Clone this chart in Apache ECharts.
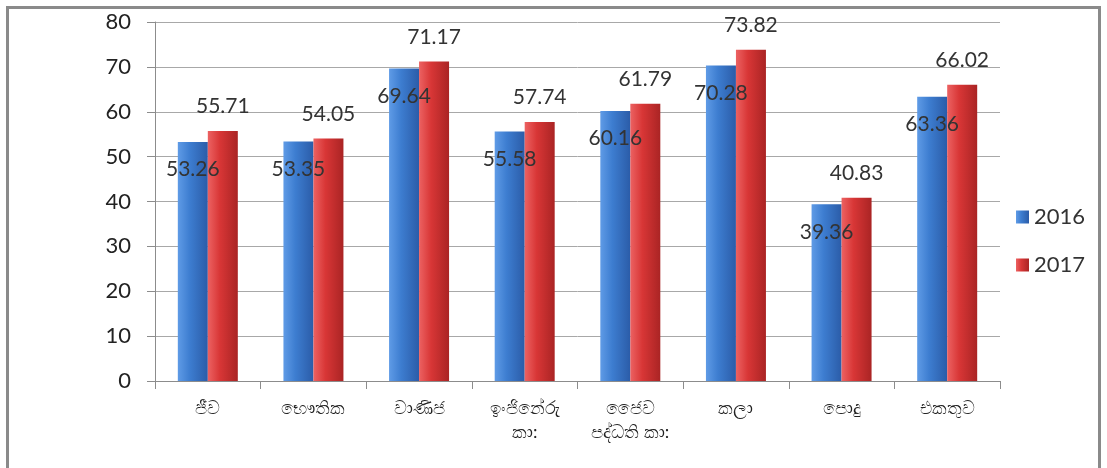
<!DOCTYPE html>
<html><head><meta charset="utf-8">
<script src="https://cdn.jsdelivr.net/npm/echarts@6/dist/echarts.min.js"></script>
<style>
html,body{margin:0;padding:0;background:#fff;}
#frame{position:absolute;left:6px;top:6px;width:1095px;height:470px;border:3px solid #8a8a8a;border-bottom:none;box-sizing:border-box;}
#c{position:absolute;left:0;top:0;width:1107px;height:468px;}
</style></head>
<body>
<div id="frame"></div>
<div id="c"></div>
<script>
const categories = ['ජීව', 'භෞතික', 'වාණිජ', 'ඉංජිනේරු\nකා:', 'ජෛව\nපද්ධති කා:', 'කලා', 'පොදු', 'එකතුව'];
const series2016 = [53.26, 53.35, 69.64, 55.58, 60.16, 70.28, 39.36, 63.36];
const series2017 = [55.71, 54.05, 71.17, 57.74, 61.79, 73.82, 40.83, 66.02];
const seriesNames = ['2016', '2017'];

const chart = echarts.init(document.getElementById('c'));
const font = 'Lato, "Noto Sans", sans-serif';
const blueGrad = new echarts.graphic.LinearGradient(0,0,1,0,[
  {offset:0,color:'#5f9be6'},{offset:0.4,color:'#3d7dd0'},{offset:1,color:'#2b5ca8'}]);
const redGrad = new echarts.graphic.LinearGradient(0,0,1,0,[
  {offset:0,color:'#ec6262'},{offset:0.4,color:'#d83636'},{offset:1,color:'#aa2424'}]);
chart.setOption({
  animation:false,
  textStyle:{fontFamily:font},
  grid:{left:155,right:107,top:22,bottom:87},
  legend:{
    orient:'vertical', left:1011, top:201, itemGap:26,
    itemWidth:13, itemHeight:13, icon:'rect',
    textStyle:{fontSize:22,color:'#333',fontFamily:font},
    data:seriesNames
  },
  xAxis:{
    type:'category', data:categories,
    axisLine:{lineStyle:{color:'#8c8c8c'}},
    axisTick:{show:true,length:8,lineStyle:{color:'#8c8c8c'}},
    axisLabel:{fontSize:18,color:'#222',margin:15,lineHeight:24,interval:0}
  },
  yAxis:{
    type:'value', min:0, max:80, interval:10,
    axisLine:{show:true,lineStyle:{color:'#8c8c8c'}},
    axisTick:{show:true,length:8,lineStyle:{color:'#8c8c8c'}},
    splitLine:{lineStyle:{color:'#a8a8a8'}},
    axisLabel:{fontSize:22,color:'#222',margin:24}
  },
  series:[
    {name:seriesNames[0],type:'bar',data:series2016,barWidth:30,barGap:'0%',
     itemStyle:{color:blueGrad},
     label:{show:true,position:'insideTop',offset:[0,12],fontSize:21,color:'#333',fontFamily:font}},
    {name:seriesNames[1],type:'bar',data:series2017,barWidth:30,
     itemStyle:{color:redGrad},
     label:{show:true,position:'top',offset:[0,-9],fontSize:21,color:'#333',fontFamily:font}}
  ]
});
</script>
</body></html>
